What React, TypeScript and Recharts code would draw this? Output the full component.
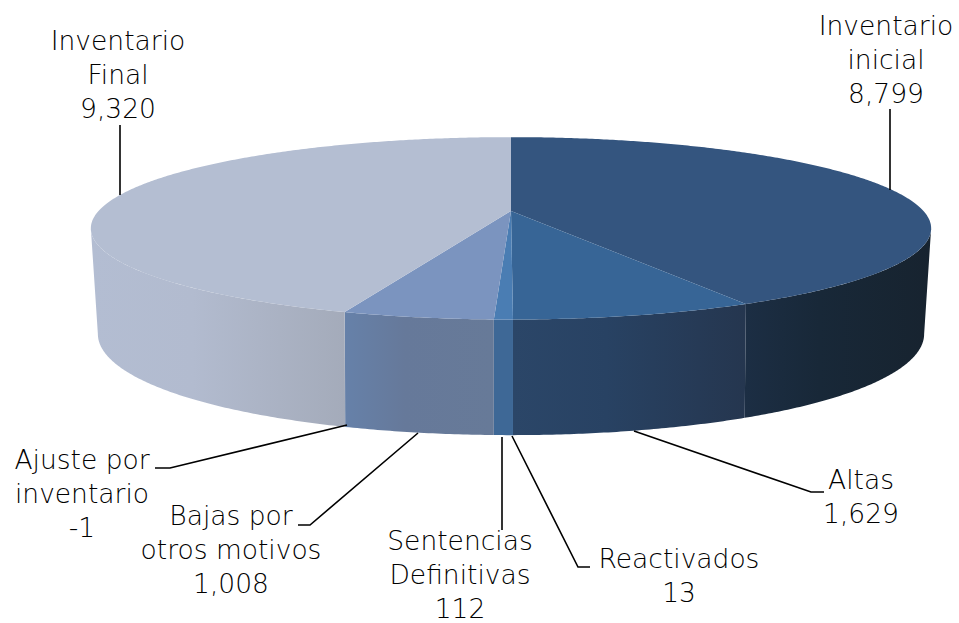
import React from 'react';
import { PieChart, Pie, Cell } from 'recharts';

const categories = [
  'Inventario\ninicial',
  'Altas',
  'Reactivados',
  'Sentencias\nDefinitivas',
  'Bajas por\notros motivos',
  'Ajuste por\ninventario',
  'Inventario\nFinal',
];
const values = [8799, 1629, 13, 112, 1008, -1, 9320];

const topColors = ['#34557F', '#376596', '#4A7DB3', '#4A7DB3', '#7B94BF', '#7B94BF', '#B4BED2'];
const wallColors = [
  ['#1C2E44', '#182838', '#17232F'],
  ['#2B4668', '#284263', '#25364F'],
  ['#3E6896', '#3E6896', '#3E6896'],
  ['#3E6896', '#3E6896', '#3E6896'],
  ['#6681A9', '#66799A', '#677A98'],
  ['#6681A9', '#66799A', '#677A98'],
  ['#B3BDD2', '#B2BBCF', '#A4ABBA'],
];

// text centre, first baseline and the leader line of every label
const labelLayout = [
  { x: 886, y: 35, line: [[890, 109], [890, 190]] },
  { x: 861, y: 489, line: [[634, 431], [811, 492], [824, 492]] },
  { x: 679, y: 568, line: [[512, 436], [578, 567], [590, 567]] },
  { x: 460, y: 550, line: [[502, 437], [502, 530]] },
  { x: 231, y: 525, line: [[418, 433], [310, 525], [298, 525]] },
  { x: 82, y: 469, line: [[347, 425], [170, 468], [155, 468]] },
  { x: 118, y: 50, line: [[120, 125], [120, 195]] },
];

const chartData = categories.map((name, i) => ({ name, value: values[i], size: Math.abs(values[i]) }));

// tilt of the disc: perspective strength and vertical squash
const PERSPECTIVE = 0.19;
const SQUASH = 0.2131;
const RAD = Math.PI / 180;

const project = (deg: number, cx: number, cy: number, r: number) => {
  const u = Math.sin(deg * RAD);
  const v = -Math.cos(deg * RAD);
  const d = 1 - PERSPECTIVE * v;
  return [cx + (r * u) / d, cy + (r * SQUASH * v) / d];
};

// the bottom rim is a little narrower at the sides and further down than the top rim
const dropToBase = (p: number[], cx: number, cy: number, r: number) => {
  const t = (p[0] - cx) / (r * 1.018);
  const rimY = cy + r * SQUASH * PERSPECTIVE;
  return [p[0] - 0.017 * r * t * t * t, p[1] + r * 0.256 + (p[1] - rimY) * 0.109];
};

const arcPoints = (from: number, to: number, cx: number, cy: number, r: number) => {
  const steps = Math.max(2, Math.ceil((to - from) * 2));
  const pts: number[][] = [];
  for (let i = 0; i <= steps; i++) pts.push(project(from + ((to - from) * i) / steps, cx, cy, r));
  return pts;
};

const toPath = (pts: number[][]) => 'M' + pts.map((p) => `${p[0].toFixed(2)},${p[1].toFixed(2)}`).join('L') + 'Z';

const DiscSlice = (props: any) => {
  const { cx, cy, outerRadius, startAngle, endAngle, index } = props;
  const from = 90 - startAngle;
  const to = 90 - endAngle;
  const top = arcPoints(from, to, cx, cy, outerRadius);
  // only the front of the disc shows a wall
  const edge = (Math.acos(-PERSPECTIVE) * 180) / Math.PI;
  const wallFrom = Math.max(from, edge);
  const wallTo = Math.min(to, 360 - edge);
  let wall = null;
  if (wallTo > wallFrom) {
    const rim = arcPoints(wallFrom, wallTo, cx, cy, outerRadius);
    const base = rim.map((p) => dropToBase(p, cx, cy, outerRadius)).reverse();
    const xs = rim.concat(base).map((p) => p[0]);
    const stops = wallColors[index];
    const id = `wall-${index}`;
    wall = (
      <g>
        <defs>
          <linearGradient id={id} gradientUnits="userSpaceOnUse" x1={Math.min(...xs)} x2={Math.max(...xs)} y1={0} y2={0}>
            <stop offset="0%" stopColor={stops[0]} />
            <stop offset="40%" stopColor={stops[1]} />
            <stop offset="100%" stopColor={stops[2]} />
          </linearGradient>
        </defs>
        <path d={toPath(rim.concat(base))} fill={`url(#${id})`} />
      </g>
    );
  }
  return (
    <g>
      {wall}
      <path d={toPath([[cx, cy], ...top])} fill={topColors[index]} />
    </g>
  );
};

const renderLabel = (props: any) => {
  const { index } = props;
  const layout = labelLayout[index];
  const rows = [...categories[index].split('\n'), values[index].toLocaleString('en-US')];
  return (
    <g key={index}>
      <polyline
        points={layout.line.map((p) => p.join(',')).join(' ')}
        fill="none"
        stroke="#000"
        strokeWidth={1.6}
      />
      {rows.map((row, i) => (
        <text
          key={i}
          x={layout.x}
          y={layout.y + i * 34}
          textAnchor="middle"
          fill="#000"
          fontSize={26.5}
          fontFamily="'DejaVu Sans', sans-serif"
          fontWeight={200}
        >
          {row}
        </text>
      ))}
    </g>
  );
};

export default function App() {
  return (
    <div style={{ position: 'absolute', left: 0, top: 0, width: 959, height: 623, background: '#fff' }}>
      <PieChart width={959} height={623} margin={{ top: 0, right: 0, bottom: 0, left: 0 }}>
        <Pie
          data={chartData}
          dataKey="size"
          nameKey="name"
          cx={511}
          cy={211}
          innerRadius={0}
          outerRadius={412.5}
          startAngle={90}
          endAngle={-270}
          stroke="none"
          shape={DiscSlice}
          label={renderLabel}
          labelLine={false}
          isAnimationActive={false}
        >
          {chartData.map((d, i) => (
            <Cell key={d.name} fill={topColors[i]} />
          ))}
        </Pie>
      </PieChart>
    </div>
  );
}
